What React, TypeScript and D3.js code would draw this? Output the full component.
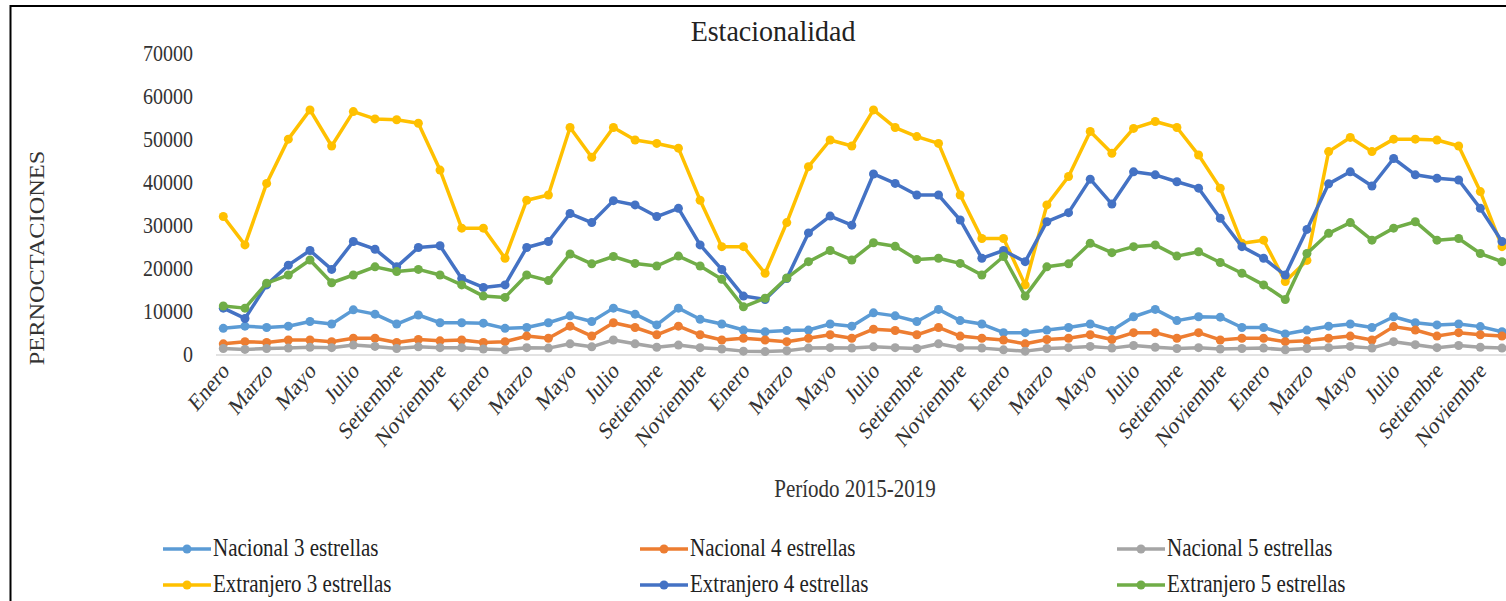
import React from "react";
import * as d3 from "d3";

// Monthly overnight stays, Jan 2015 – Dec 2019 (60 months)
const months = [
  "Enero", "Febrero", "Marzo", "Abril", "Mayo", "Junio",
  "Julio", "Agosto", "Setiembre", "Octubre", "Noviembre", "Diciembre",
];
const years = [2015, 2016, 2017, 2018, 2019];

const nacional3 = [
  6200, 6700, 6400, 6700, 7800, 7200, 10500, 9500, 7200, 9300, 7500, 7500,
  7400, 6200, 6400, 7500, 9100, 7800, 10900, 9500, 7000, 10900, 8300, 7200,
  5800, 5400, 5700, 5800, 7200, 6700, 9800, 9100, 7800, 10600, 8000, 7200,
  5200, 5200, 5800, 6400, 7200, 5700, 8900, 10600, 8000, 8900, 8800, 6400,
  6400, 4900, 5800, 6700, 7200, 6400, 8900, 7500, 7000, 7200, 6600, 5400,
];
const nacional4 = [
  2600, 3100, 2900, 3500, 3500, 3100, 3900, 3900, 2900, 3600, 3300, 3500,
  2900, 3100, 4400, 3900, 6700, 4400, 7500, 6400, 4700, 6700, 4700, 3500,
  3900, 3500, 3100, 3900, 4700, 3900, 6000, 5700, 4700, 6400, 4400, 3900,
  3500, 2600, 3600, 3900, 4700, 3600, 5200, 5200, 3900, 5200, 3500, 3900,
  3900, 3100, 3300, 3900, 4400, 3500, 6600, 5800, 4400, 5200, 4700, 4400,
];
const nacional5 = [
  1500, 1300, 1500, 1600, 1800, 1700, 2300, 2000, 1500, 1900, 1700, 1700,
  1400, 1200, 1700, 1600, 2600, 1900, 3500, 2600, 1800, 2300, 1700, 1400,
  900, 800, 1000, 1600, 1700, 1600, 1900, 1700, 1500, 2600, 1700, 1600,
  1200, 900, 1500, 1700, 2000, 1600, 2200, 1800, 1500, 1700, 1400, 1500,
  1600, 1200, 1500, 1700, 2000, 1600, 3100, 2400, 1700, 2200, 1800, 1600,
];
const extranjero3 = [
  32200, 25600, 39900, 50200, 57000, 48600, 56600, 54900, 54700, 53900, 43000, 29500,
  29500, 22500, 36000, 37200, 52900, 46000, 52900, 50000, 49200, 48100, 36000, 25200,
  25200, 19000, 30800, 43800, 50000, 48600, 57000, 52900, 50800, 49200, 37200, 27100,
  27100, 16300, 34900, 41500, 52000, 46900, 52700, 54300, 52900, 46500, 38800, 26000,
  26700, 17100, 22000, 47300, 50600, 47300, 50200, 50200, 50000, 48600, 38000, 25200,
];
const extranjero4 = [
  10900, 8500, 16300, 20900, 24300, 19900, 26400, 24600, 20500, 25000, 25400, 17800,
  15700, 16300, 25000, 26400, 32900, 30800, 35900, 34900, 32200, 34100, 25600, 19900,
  13700, 12900, 17800, 28400, 32300, 30200, 42100, 39900, 37200, 37200, 31400, 22500,
  24300, 21700, 31000, 33100, 40900, 35100, 42600, 41900, 40300, 38800, 31800, 25200,
  22500, 18600, 29200, 39800, 42600, 39300, 45700, 41900, 41100, 40700, 34100, 26400,
];
const extranjero5 = [
  11400, 10900, 16700, 18600, 22100, 16800, 18600, 20500, 19400, 19900, 18600, 16300,
  13700, 13400, 18600, 17300, 23500, 21200, 22900, 21300, 20700, 23000, 20700, 17600,
  11200, 13200, 17900, 21700, 24300, 22100, 26100, 25300, 22200, 22500, 21300, 18600,
  22900, 13700, 20500, 21200, 26000, 23800, 25200, 25600, 23000, 24000, 21500, 19000,
  16300, 12900, 23600, 28300, 30800, 26700, 29500, 31000, 26700, 27100, 23600, 21700,
];

const yTicks = [0, 10000, 20000, 30000, 40000, 50000, 60000, 70000];

const seriesNames = [
  "Nacional 3 estrellas",
  "Nacional 4 estrellas",
  "Nacional 5 estrellas",
  "Extranjero 3 estrellas",
  "Extranjero 4 estrellas",
  "Extranjero 5 estrellas",
];
const seriesValues = [nacional3, nacional4, nacional5, extranjero3, extranjero4, extranjero5];
const seriesColors = ["#5B9BD5", "#ED7D31", "#A5A5A5", "#FFC000", "#4472C4", "#70AD47"];

const W = 1506;
const H = 601;
const FONT = "'Liberation Serif', 'Times New Roman', serif";
// text is drawn slightly taller than wide
const STRETCH = 1.16;

export default function App() {
  const periods = years.flatMap((y) => months.map((m) => `${m} ${y}`));
  const x = d3
    .scalePoint<string>()
    .domain(periods)
    .range([223.3, 1502]);
  const y = d3.scaleLinear().domain([0, 70000]).range([355, 54]);

  const line = d3
    .line<number>()
    .x((_, i) => x(periods[i]) as number)
    .y((d) => y(d));

  const legendCols = [163, 640, 1117];
  const legendRows = [549, 585];

  return (
    <svg
      width={W}
      height={H}
      style={{ position: "absolute", left: 0, top: 0, background: "#fff" }}
      fontFamily={FONT}
    >
      <rect x={0} y={0} width={W} height={H} fill="#fff" />
      {/* outer frame */}
      <path d={`M10.5,${H} V6 H${W}`} fill="none" stroke="#000" strokeWidth={2} />

      <text
        transform={`translate(773,41) scale(1,1.08)`}
        textAnchor="middle"
        fontSize={28}
        fill="#222"
      >
        Estacionalidad
      </text>

      {/* y axis labels */}
      {yTicks.map((t) => (
        <text
          key={t}
          transform={`translate(193,${y(t) + 7}) scale(1,${STRETCH})`}
          textAnchor="end"
          fontSize={20}
          fill="#333"
        >
          {t}
        </text>
      ))}
      <text
        transform={`translate(44,258) scale(1,${STRETCH}) rotate(-90)`}
        textAnchor="middle"
        fontSize={21}
        fill="#333"
      >
        PERNOCTACIONES
      </text>

      {/* category axis */}
      <line x1={216} x2={W} y1={y(0)} y2={y(0)} stroke="#d9d9d9" strokeWidth={1.5} />
      {periods.map((p, i) =>
        i % 2 === 0 ? (
          <text
            key={p}
            transform={`translate(${(x(p) as number) + 7},${y(0) + 17}) scale(1,1.2) rotate(-45)`}
            textAnchor="end"
            fontSize={20}
            fill="#333"
          >
            {months[i % 12]}
          </text>
        ) : null
      )}
      <text
        transform={`translate(855,497) scale(1,${STRETCH})`}
        textAnchor="middle"
        fontSize={21}
        fill="#333"
      >
        Período 2015-2019
      </text>

      {/* series */}
      {seriesValues.map((vals, s) => (
        <g key={seriesNames[s]}>
          <path
            d={line(vals) ?? ""}
            fill="none"
            stroke={seriesColors[s]}
            strokeWidth={3.5}
            strokeLinejoin="round"
            strokeLinecap="round"
          />
          {vals.map((v, i) => (
            <circle
              key={i}
              cx={x(periods[i]) as number}
              cy={y(v)}
              r={4.5}
              fill={seriesColors[s]}
            />
          ))}
        </g>
      ))}

      {/* legend */}
      {seriesNames.map((name, s) => {
        const cx = legendCols[s % 3];
        const cy = legendRows[Math.floor(s / 3)];
        return (
          <g key={name}>
            <line
              x1={cx}
              x2={cx + 48}
              y1={cy}
              y2={cy}
              stroke={seriesColors[s]}
              strokeWidth={3.5}
            />
            <circle cx={cx + 24} cy={cy} r={4.5} fill={seriesColors[s]} />
            <text
              transform={`translate(${cx + 50},${cy + 7}) scale(1,${STRETCH})`}
              fontSize={21}
              fill="#222"
            >
              {name}
            </text>
          </g>
        );
      })}
    </svg>
  );
}
